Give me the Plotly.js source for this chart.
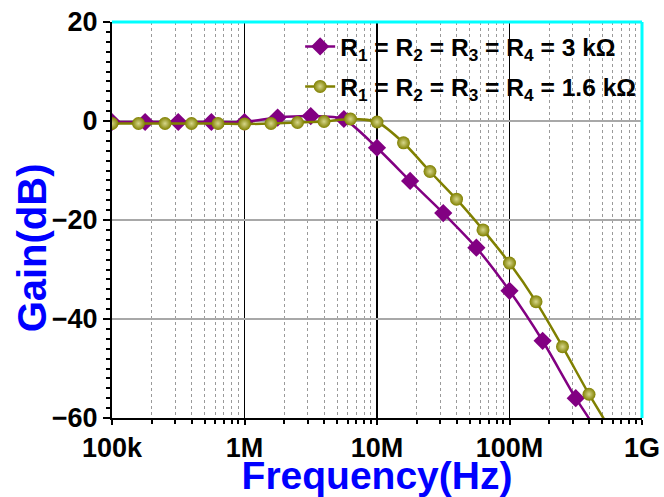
<!DOCTYPE html>
<html>
<head>
<meta charset="utf-8">
<script src="https://cdn.plot.ly/plotly-3.0.1.min.js"></script>
<style>html,body{margin:0;padding:0;background:#fff;}#chart{width:664px;height:497px;}</style>
</head>
<body>
<div id="chart"></div>
<script>
// Series 1: R1 = R2 = R3 = R4 = 3 kOhm (purple diamonds)
var freq3k = [1e5, 1.778e5, 3.162e5, 5.623e5, 1e6, 1.778e6, 3.162e6, 5.623e6,
              1e7, 1.778e7, 3.162e7, 5.623e7, 1e8, 1.778e8, 3.162e8, 5.623e8];
var gain3k = [-0.2, -0.2, -0.2, -0.2, -0.2, 0.7, 1.0, 0.4,
              -5.4, -12.1, -18.6, -25.6, -34.3, -44.4, -56.0, -66.0];

// Series 2: R1 = R2 = R3 = R4 = 1.6 kOhm (olive circles)
var freq16k = [1e5, 1.585e5, 2.512e5, 3.981e5, 6.31e5, 1e6, 1.585e6, 2.512e6, 3.981e6, 6.31e6,
               1e7, 1.585e7, 2.512e7, 3.981e7, 6.31e7, 1e8, 1.585e8, 2.512e8, 3.981e8, 6.31e8];
var gain16k = [-0.5, -0.5, -0.5, -0.5, -0.5, -0.6, -0.5, -0.3, -0.1, 0.4,
               -0.2, -4.4, -10.2, -15.8, -22.0, -28.7, -36.5, -45.6, -55.2, -64.0];

var seriesNames = ['R<sub>1</sub> = R<sub>2</sub> = R<sub>3</sub> = R<sub>4</sub> = 3 k\u03A9',
                   'R<sub>1</sub> = R<sub>2</sub> = R<sub>3</sub> = R<sub>4</sub> = 1.6 k\u03A9'];

var xTickVals = [1e5, 1e6, 1e7, 1e8, 1e9];
var xTickText = ['100k', '1M', '10M', '100M', '1G'];
var yTickVals = [-60, -40, -20, 0, 20];

var purple = '#820082';
var olive = '#808000';

var traces = [
  {
    x: freq3k, y: gain3k, name: seriesNames[0], type: 'scatter', mode: 'lines+markers',
    line: {color: purple, width: 2.5, shape: 'spline', smoothing: 0.6},
    marker: {symbol: 'diamond', size: 14, color: purple},
    legendgroup: 'a'
  },
  {
    x: freq16k, y: gain16k, name: seriesNames[1], type: 'scatter', mode: 'lines+markers',
    line: {color: olive, width: 2.5, shape: 'spline', smoothing: 0.6},
    marker: {symbol: 'circle', size: 13, color: olive,
             gradient: {type: 'radial', color: '#d6d68a'}},
    legendgroup: 'b'
  }
];

var fam = 'Liberation Sans, Arial, sans-serif';
var tickFont = {family: fam, size: 27, color: '#000', weight: 'bold'};
var titleFont = {family: fam, size: 39, color: '#0000FF', weight: 'bold'};

var layout = {
  width: 664, height: 497,
  margin: {l: 112, r: 22, t: 22, b: 79},
  paper_bgcolor: '#fff', plot_bgcolor: '#fff',
  showlegend: true,
  legend: {
    x: 0.355, y: 0.995, xanchor: 'left', yanchor: 'top',
    bgcolor: 'rgba(0,0,0,0)', borderwidth: 0,
    font: {family: fam, size: 24.6, color: '#000', weight: 'bold'},
    traceorder: 'grouped', tracegroupgap: 5
  },
  xaxis: {
    type: 'log', range: [5, 9],
    tickvals: xTickVals, ticktext: xTickText,
    ticks: 'outside', ticklen: 5, tickwidth: 2, tickcolor: '#000',
    showline: true, linecolor: '#000', linewidth: 2,
    showgrid: true, gridcolor: '#000', gridwidth: 1.5,
    zeroline: false,
    tickfont: tickFont,
    minor: {ticks: 'outside', ticklen: 4, tickwidth: 2, tickcolor: '#000',
            dtick: 'D1', showgrid: true, gridcolor: '#9a9a9a', griddash: 'dot', gridwidth: 1},
    title: {text: 'Frequency(Hz)', font: titleFont, standoff: 2}
  },
  yaxis: {
    range: [-60, 20],
    tickvals: yTickVals,
    ticks: 'outside', ticklen: 7, tickwidth: 2, tickcolor: '#000',
    showline: true, linecolor: '#000', linewidth: 2,
    showgrid: true, gridcolor: '#a8a8a8', gridwidth: 1.5,
    zeroline: false,
    tickfont: tickFont,
    minor: {ticks: 'outside', ticklen: 4, tickwidth: 2, tickcolor: '#000', dtick: 2, showgrid: false}
  },
  annotations: [
    {text: 'Gain(dB)', xref: 'paper', yref: 'paper', x: -0.1493, y: 0.4306,
     xanchor: 'center', yanchor: 'middle', textangle: -90, showarrow: false,
     font: {family: fam, size: 40, color: '#0000FF', weight: 'bold'}}
  ],
  shapes: [
    {type: 'line', xref: 'paper', yref: 'paper', x0: 0, x1: 1, y0: 1, y1: 1,
     line: {color: '#00FFFF', width: 3}},
    {type: 'line', xref: 'paper', yref: 'paper', x0: 1, x1: 1, y0: 0, y1: 1,
     line: {color: '#00FFFF', width: 3}}
  ]
};

Plotly.newPlot('chart', traces, layout, {displayModeBar: false, staticPlot: true});
</script>
</body>
</html>
